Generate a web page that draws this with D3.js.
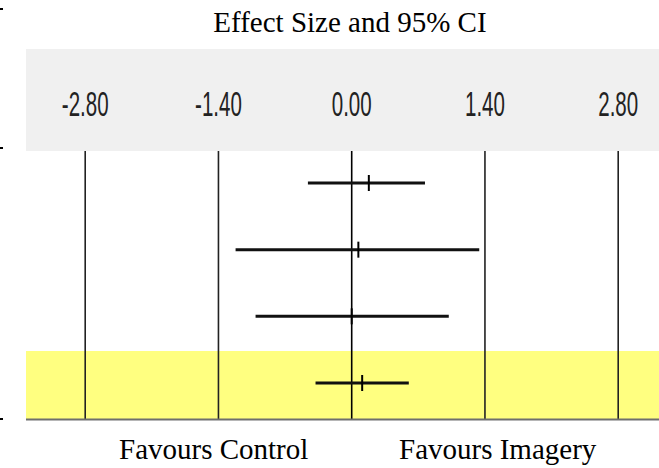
<!DOCTYPE html>
<html>
<head>
<meta charset="utf-8">
<script src="https://cdn.jsdelivr.net/npm/d3@7"></script>
<style>
  body { margin: 0; background: #fff; }
  svg { display: block; }
</style>
</head>
<body>
<div id="chart"></div>
<script>
const rows = ["Study 1", "Study 2", "Study 3", "Overall"];
const effect = [0.18, 0.07, 0.0, 0.11];
const lower = [-0.46, -1.22, -1.01, -0.38];
const upper = [0.77, 1.34, 1.02, 0.6];
const tickValues = [-2.8, -1.4, 0, 1.4, 2.8];
const sideLabels = ["Favours Control", "Favours Imagery"];

const W = 659, H = 468;
const frame = { left: 26, right: 659, headTop: 49, headBottom: 151, bottom: 419 };

const svg = d3.select("#chart").append("svg").attr("width", W).attr("height", H);

const x = d3.scaleLinear().domain([-2.8, 2.8]).range([85.2, 618.2]);
const y = d3.scalePoint().domain(rows).range([183, 383]);
const fmt = (d) => d.toFixed(2); // plain hyphen, like the original

// header band with tick labels
svg.append("rect")
  .attr("x", frame.left).attr("y", frame.headTop)
  .attr("width", frame.right - frame.left).attr("height", frame.headBottom - frame.headTop)
  .attr("fill", "#f0f0f0");

// summary row highlight
svg.append("rect")
  .attr("x", frame.left).attr("y", y("Overall") - 32)
  .attr("width", frame.right - frame.left).attr("height", frame.bottom - (y("Overall") - 32))
  .attr("fill", "#ffff80");

svg.append("text")
  .attr("x", 350).attr("y", 32)
  .attr("text-anchor", "middle")
  .attr("font-family", "Liberation Serif, Times New Roman, serif")
  .attr("font-size", 29)
  .text("Effect Size and 95% CI");

svg.append("g")
  .selectAll("text")
  .data(tickValues)
  .join("text")
  .attr("transform", (d) => `translate(${x(d)},116) scale(0.57,1)`)
  .attr("text-anchor", "middle")
  .attr("font-family", "Liberation Sans, Arial, sans-serif")
  .attr("font-size", 36)
  .attr("fill", "#222")
  .text(fmt);

// vertical reference lines
svg.append("g")
  .selectAll("line")
  .data(tickValues)
  .join("line")
  .attr("x1", (d) => x(d)).attr("x2", (d) => x(d))
  .attr("y1", frame.headBottom).attr("y2", frame.bottom)
  .attr("stroke", (d) => (d === 0 ? "#000" : "#222"))
  .attr("stroke-width", 1.6);

// baseline
svg.append("line")
  .attr("x1", frame.left).attr("x2", frame.right)
  .attr("y1", frame.bottom + 0.5).attr("y2", frame.bottom + 0.5)
  .attr("stroke", "#6e6e6e").attr("stroke-width", 2);

// confidence intervals
const ci = svg.append("g");
ci.selectAll("line.ci")
  .data(rows)
  .join("line")
  .attr("class", "ci")
  .attr("x1", (d, i) => x(lower[i])).attr("x2", (d, i) => x(upper[i]))
  .attr("y1", (d) => y(d)).attr("y2", (d) => y(d))
  .attr("stroke", "#111").attr("stroke-width", 3);
ci.selectAll("line.pt")
  .data(rows)
  .join("line")
  .attr("class", "pt")
  .attr("x1", (d, i) => x(effect[i])).attr("x2", (d, i) => x(effect[i]))
  .attr("y1", (d) => y(d) - 8).attr("y2", (d) => y(d) + 8)
  .attr("stroke", "#000").attr("stroke-width", 2);

svg.append("g")
  .selectAll("text")
  .data(sideLabels)
  .join("text")
  .attr("x", (d, i) => [119, 399][i]).attr("y", 459)
  .attr("font-family", "Liberation Serif, Times New Roman, serif")
  .attr("font-size", 29)
  .text((d) => d);

// stray table-edge marks at the far left
svg.append("g")
  .selectAll("line")
  .data([9, 148, 419])
  .join("line")
  .attr("x1", 0).attr("x2", 3)
  .attr("y1", (d) => d).attr("y2", (d) => d)
  .attr("stroke", "#000").attr("stroke-width", 2);
</script>
</body>
</html>
